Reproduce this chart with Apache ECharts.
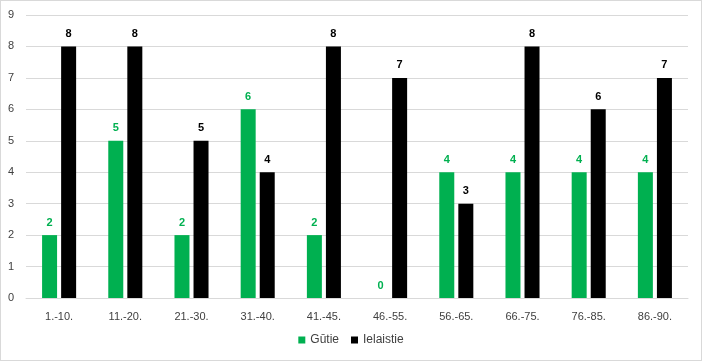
<!DOCTYPE html>
<html><head><meta charset="utf-8">
<script src="https://cdn.jsdelivr.net/npm/echarts@6/dist/echarts.min.js"></script>
<style>html,body{margin:0;padding:0;background:#fff}#c{width:700px;height:359px;border:1px solid #d9d9d9}</style>
</head><body><div id="c"></div>
<script>
var categories = ['1.-10.','11.-20.','21.-30.','31.-40.','41.-45.','46.-55.','56.-65.','66.-75.','76.-85.','86.-90.'];
var gutie = [2,5,2,6,2,0,4,4,4,4];
var ielaistie = [8,8,5,4,8,7,3,8,6,7];
var yTicks = [0,1,2,3,4,5,6,7,8,9];
var chart = echarts.init(document.getElementById('c'));
chart.setOption({
  animation:false,
  grid:{left:25,right:13,top:14,bottom:62},
  legend:{bottom:9,left:'center',itemWidth:7,itemHeight:7,itemGap:12,icon:'rect',
    textStyle:{color:'#404040',fontSize:12,fontFamily:'Liberation Sans, Arial'},
    data:['Gūtie','Ielaistie']},
  xAxis:{type:'category',data:categories,axisTick:{show:false},
    axisLine:{lineStyle:{color:'#d9d9d9'}},
    axisLabel:{color:'#404040',fontSize:11,margin:13,fontFamily:'Liberation Sans, Arial'}},
  yAxis:{type:'value',min:0,max:yTicks[yTicks.length-1],interval:1,
    axisLabel:{color:'#404040',fontSize:11,margin:12,fontFamily:'Liberation Sans, Arial'},
    splitLine:{lineStyle:{color:'#d9d9d9'}}},
  series:[
    {name:'Gūtie',type:'bar',data:gutie,barWidth:15,barGap:'27%',itemStyle:{color:'#00b050'},
      label:{show:true,position:'top',distance:7,color:'#00b050',fontWeight:'bold',fontSize:11,fontFamily:'Liberation Sans, Arial'}},
    {name:'Ielaistie',type:'bar',data:ielaistie,barWidth:15,itemStyle:{color:'#000000'},
      label:{show:true,position:'top',distance:7,color:'#000000',fontWeight:'bold',fontSize:11,fontFamily:'Liberation Sans, Arial'}}
  ]
});
</script></body></html>
